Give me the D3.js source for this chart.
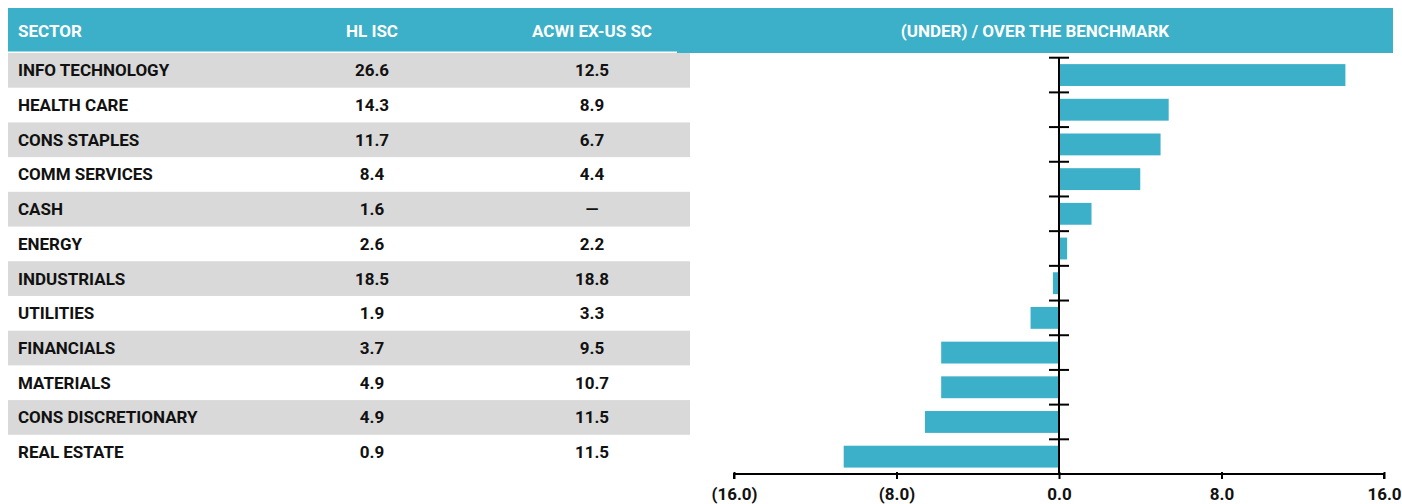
<!DOCTYPE html>
<html><head><meta charset="utf-8">
<script src="https://cdn.jsdelivr.net/npm/d3@7"></script>
<style>
html,body{margin:0;padding:0;background:#fff;}
text{font-family:"Roboto","DejaVu Sans",sans-serif;font-weight:700;}
</style></head>
<body><svg id="c" width="1402" height="504"></svg>
<script>
const sectors = ["INFO TECHNOLOGY","HEALTH CARE","CONS STAPLES","COMM SERVICES","CASH","ENERGY","INDUSTRIALS","UTILITIES","FINANCIALS","MATERIALS","CONS DISCRETIONARY","REAL ESTATE"];
const hlIsc = ["26.6","14.3","11.7","8.4","1.6","2.6","18.5","1.9","3.7","4.9","4.9","0.9"];
const acwi = ["12.5","8.9","6.7","4.4","—","2.2","18.8","3.3","9.5","10.7","11.5","11.5"];
const diffs = [14.1,5.4,5.0,4.0,1.6,0.4,-0.3,-1.4,-5.8,-5.8,-6.6,-10.6];
const headers = ["SECTOR","HL ISC","ACWI EX-US SC"];
const chartTitle = "(UNDER) / OVER THE BENCHMARK";
const xTicks = [-16,-8,0,8,16];

const teal = "#3BB0C8";
const fs = 17;
const svg = d3.select("#c");

// header
svg.append("rect").attr("x",8).attr("y",8).attr("width",670).attr("height",43.5).attr("fill",teal);
svg.append("rect").attr("x",677).attr("y",8).attr("width",716).attr("height",45).attr("fill",teal);

const colX = [18, 372, 592];
headers.forEach((h,i)=>{
  svg.append("text").attr("x",colX[i]).attr("y",31).attr("dy","0.35em")
    .attr("text-anchor", i===0?"start":"middle").attr("fill","#fff").attr("font-size",fs).text(h);
});
svg.append("text").attr("x",1035).attr("y",31).attr("dy","0.35em").attr("text-anchor","middle")
  .attr("fill","#fff").attr("font-size",fs).text(chartTitle);

// table rows
const rowY = d3.scaleBand().domain(sectors).range([53, 469.5]);
const rows = svg.append("g").selectAll("g").data(sectors).join("g")
  .attr("transform", d=>`translate(0,${rowY(d)})`);
rows.append("rect").attr("x",8).attr("width",682).attr("height",rowY.bandwidth())
  .attr("fill",(d,i)=> i%2===0 ? "#D9D9D9" : "none");
rows.append("text").attr("x",colX[0]).attr("y",rowY.bandwidth()/2).attr("dy","0.35em")
  .attr("font-size",fs).attr("fill","#111").text(d=>d);
rows.append("text").attr("x",colX[1]).attr("y",rowY.bandwidth()/2).attr("dy","0.35em")
  .attr("text-anchor","middle").attr("font-size",fs).attr("fill","#111").text((d,i)=>hlIsc[i]);
rows.append("text").attr("x",colX[2]).attr("y",rowY.bandwidth()/2).attr("dy","0.35em")
  .attr("text-anchor","middle").attr("font-size",fs).attr("fill","#111").text((d,i)=>acwi[i]);

// chart
const x = d3.scaleLinear().domain([-16,16]).range([734,1384]);
const y = d3.scaleBand().domain(sectors).range([57.7,474]).paddingInner(0.37).paddingOuter(0.185);
const yb = d3.scaleBand().domain(sectors).range([57.7,474]);

svg.append("g").selectAll("rect").data(sectors).join("rect")
  .attr("x",(d,i)=>x(Math.min(0,diffs[i])))
  .attr("y",d=>y(d))
  .attr("width",(d,i)=>Math.abs(x(diffs[i])-x(0)))
  .attr("height",y.bandwidth())
  .attr("fill",teal);

// vertical axis at zero
const boundaries = sectors.map(s=>yb(s)).concat([474]);
const vaxis = svg.append("g");
vaxis.append("line").attr("x1",x(0)).attr("x2",x(0)).attr("y1",57.7).attr("y2",474)
  .attr("stroke","#000").attr("stroke-width",2);
vaxis.selectAll("line.t").data(boundaries).join("line").attr("class","t")
  .attr("x1",x(0)-10).attr("x2",x(0)+10).attr("y1",d=>d).attr("y2",d=>d)
  .attr("stroke","#000").attr("stroke-width",2);

// bottom axis
const xAxis = d3.axisBottom(x).tickValues(xTicks).tickSize(5).tickPadding(9)
  .tickFormat(v => v<0 ? `(${Math.abs(v).toFixed(1)})` : v.toFixed(1));
const ax = svg.append("g").attr("transform","translate(0,474)").call(xAxis);
ax.select(".domain").attr("stroke","#000").attr("stroke-width",2).attr("d",`M${x(-16)},5V0H${x(16)}V5`);
ax.selectAll(".tick line").attr("stroke","#000").attr("stroke-width",2).attr("y1",-2);
ax.selectAll(".tick text").attr("font-size",fs).attr("fill","#111")
  .style("font-family","Roboto, DejaVu Sans, sans-serif").style("font-weight",700);
</script></body></html>
